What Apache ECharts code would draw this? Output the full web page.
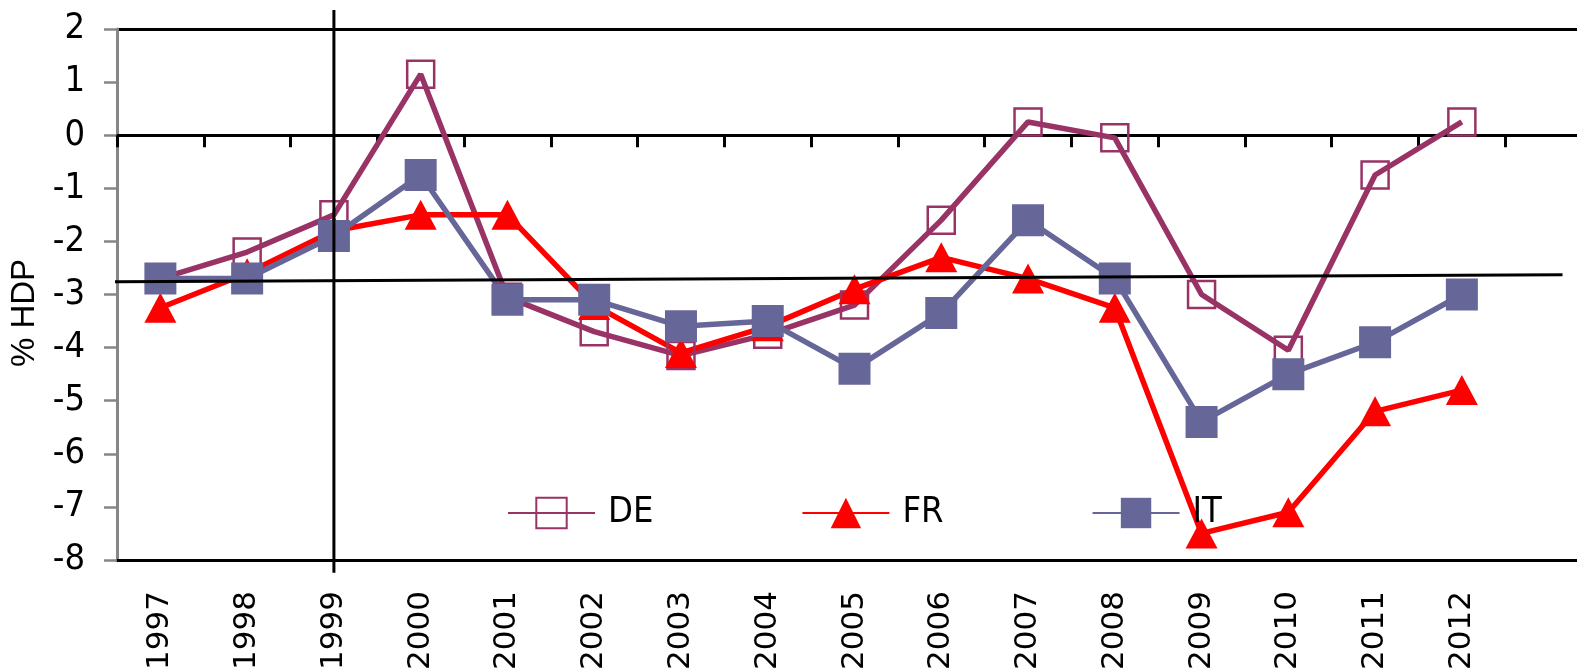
<!DOCTYPE html>
<html>
<head>
<meta charset="utf-8">
<script src="https://cdn.jsdelivr.net/npm/echarts@6/dist/echarts.min.js"></script>
<style>
  html, body { margin: 0; padding: 0; background: #fff; }
  #main { width: 1577px; height: 672px; }
</style>
</head>
<body>
<div id="main"></div>
<script>
// roky + jedna prázdná kategorie vpravo (osa pokračuje za okraj)
var years = ['1997', '1998', '1999', '2000', '2001', '2002', '2003', '2004',
  '2005', '2006', '2007', '2008', '2009', '2010', '2011', '2012']
var categories = years.concat([''])

// saldo v % HDP
var deValues = [-2.7, -2.2, -1.5, 1.15, -3.05, -3.7, -4.15, -3.75, -3.2, -1.6, 0.25, -0.05, -3.0, -4.05, -0.75, 0.25]
var frValues = [-3.25, -2.6, -1.8, -1.5, -1.5, -3.2, -4.1, -3.6, -2.9, -2.3, -2.7, -3.25, -7.5, -7.1, -5.2, -4.8]
var itValues = [-2.7, -2.7, -1.9, -0.75, -3.1, -3.1, -3.6, -3.5, -4.4, -3.35, -1.6, -2.7, -5.4, -4.5, -3.9, -3.0]

// ručně dokreslené čáry (v jednotkách kategorií / hodnot)
var guideX = [2.5, 2.5]
var guideY = [2.36, -8.24]
var levelX = [-0.06, 16.66]
var levelY = [-2.76, -2.63]

var yTicks = [-8, -7, -6, -5, -4, -3, -2, -1, 0, 1, 2]

var sansFont = '"Liberation Sans", Arial, sans-serif'
var narrowFont = '"Liberation Sans Narrow", "DejaVu Sans Condensed", "Liberation Sans", sans-serif'

function zip (xs, ys) {
  var out = []
  for (var i = 0; i < xs.length; i++) {
    out.push([xs[i], ys[i]])
  }
  return out
}

// jen horní linka (hodnota 2) je černá
var splitColors = yTicks.map(function (v) {
  return v === 2 ? '#000' : 'rgba(0,0,0,0)'
})

var myChart = echarts.init(document.getElementById('main'))
var option = {
  animation: false,
  backgroundColor: '#fff',
  grid: [
    { left: 117, top: 29, width: 1475, height: 531, outerBoundsMode: 'none', containLabel: false },
    { left: 117, top: 29, width: 1475, height: 531, outerBoundsMode: 'none', containLabel: false }
  ],
  legend: {
    data: ['DE', 'FR', 'IT'],
    left: 502,
    top: 490,
    itemWidth: 87,
    itemHeight: 38,
    itemGap: 148,
    textStyle: {
      fontFamily: narrowFont,
      fontSize: 36,
      color: '#000',
      padding: [0, 0, 0, 8]
    }
  },
  xAxis: [
    {
      type: 'category',
      gridIndex: 0,
      position: 'bottom',
      data: categories,
      boundaryGap: true,
      axisLine: { onZero: false, lineStyle: { color: '#000', width: 3 } },
      axisTick: { show: false },
      axisLabel: {
        interval: 0,
        rotate: 90,
        margin: 31,
        color: '#000',
        fontSize: 31,
        fontFamily: '"DejaVu Sans", sans-serif'
      },
      splitLine: { show: false }
    },
    {
      type: 'category',
      gridIndex: 0,
      position: 'top',
      data: categories,
      boundaryGap: true,
      axisLine: { onZero: true, lineStyle: { color: '#000', width: 3 } },
      axisTick: { show: true, inside: true, interval: 0, length: 12, lineStyle: { color: '#000', width: 3 } },
      axisLabel: { show: false },
      splitLine: { show: false }
    },
    {
      type: 'value',
      gridIndex: 1,
      min: 0,
      max: 17,
      show: false
    }
  ],
  yAxis: [
    {
      type: 'value',
      gridIndex: 0,
      min: -8,
      max: 2,
      interval: 1,
      name: '% HDP',
      nameLocation: 'middle',
      nameRotate: 90,
      nameGap: 76,
      nameTextStyle: {
        fontFamily: sansFont,
        fontSize: 33,
        color: '#000',
        padding: [0, 37, 0, 0]
      },
      axisLine: { show: true, lineStyle: { color: '#868686', width: 3 } },
      axisTick: { show: true, length: 13, lineStyle: { color: '#868686', width: 2.5 } },
      axisLabel: {
        margin: 32,
        color: '#000',
        fontSize: 36,
        fontFamily: narrowFont
      },
      splitLine: { show: true, lineStyle: { color: splitColors, width: 3 } }
    },
    {
      type: 'value',
      gridIndex: 1,
      min: -8,
      max: 2,
      show: false
    }
  ],
  series: [
    {
      name: 'DE',
      type: 'line',
      xAxisIndex: 0,
      yAxisIndex: 0,
      data: deValues,
      showAllSymbol: true,
      symbol: 'rect',
      symbolSize: 27,
      lineStyle: { color: '#993366', width: 5.5 },
      itemStyle: { color: 'rgba(255,255,255,0)', borderColor: '#993366', borderWidth: 2.5 }
    },
    {
      name: 'FR',
      type: 'line',
      xAxisIndex: 0,
      yAxisIndex: 0,
      data: frValues,
      showAllSymbol: true,
      symbol: 'triangle',
      symbolSize: [32, 30],
      lineStyle: { color: '#ff0000', width: 5.5 },
      itemStyle: { color: '#ff0000' }
    },
    {
      name: 'IT',
      type: 'line',
      xAxisIndex: 0,
      yAxisIndex: 0,
      data: itValues,
      showAllSymbol: true,
      symbol: 'rect',
      symbolSize: 32,
      lineStyle: { color: '#666699', width: 5.5 },
      itemStyle: { color: '#666699' }
    },
    {
      type: 'line',
      xAxisIndex: 2,
      yAxisIndex: 1,
      data: zip(guideX, guideY),
      symbol: 'none',
      clip: false,
      silent: true,
      z: 5,
      lineStyle: { color: '#000', width: 3 }
    },
    {
      type: 'line',
      xAxisIndex: 2,
      yAxisIndex: 1,
      data: zip(levelX, levelY),
      symbol: 'none',
      clip: false,
      silent: true,
      z: 5,
      lineStyle: { color: '#000', width: 3 }
    }
  ]
}
myChart.setOption(option)
</script>
</body>
</html>
